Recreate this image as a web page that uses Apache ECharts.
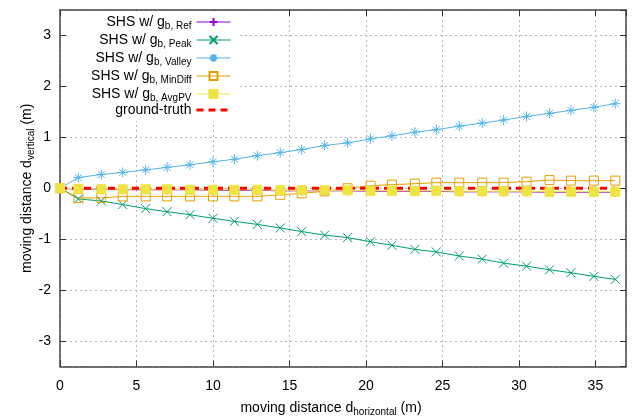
<!DOCTYPE html>
<html><head><meta charset="utf-8">
<script src="https://cdn.jsdelivr.net/npm/echarts@6/dist/echarts.min.js"></script>
<style>html,body{margin:0;padding:0;background:#fff}#c{width:633px;height:418px}</style>
</head><body><div id="c"></div>
<script>
const xs = [0, 1.2, 2.7, 4.1, 5.6, 7.0, 8.5, 10.0, 11.4, 12.9, 14.4, 15.8, 17.3, 18.8, 20.3, 21.7, 23.2, 24.6, 26.1, 27.6, 29.0, 30.5, 32.0, 33.4, 34.9, 36.3];
const refVals = [0, -0.02, -0.02, -0.03, -0.03, -0.03, -0.03, -0.04, -0.04, -0.04, -0.05, -0.05, -0.05, -0.05, -0.06, -0.06, -0.06, -0.06, -0.07, -0.07, -0.07, -0.07, -0.08, -0.08, -0.08, -0.08];
const peakVals = [0, -0.21, -0.25, -0.32, -0.40, -0.46, -0.52, -0.59, -0.65, -0.71, -0.78, -0.85, -0.92, -0.97, -1.05, -1.12, -1.20, -1.25, -1.33, -1.39, -1.47, -1.53, -1.60, -1.66, -1.73, -1.79];
const valleyVals = [0, 0.21, 0.27, 0.31, 0.36, 0.41, 0.46, 0.52, 0.57, 0.64, 0.70, 0.76, 0.84, 0.89, 0.97, 1.03, 1.10, 1.15, 1.22, 1.28, 1.34, 1.41, 1.47, 1.53, 1.59, 1.66];
const minDiffVals = [0, -0.19, -0.19, -0.16, -0.16, -0.16, -0.16, -0.16, -0.16, -0.16, -0.13, -0.10, -0.06, 0.0, 0.05, 0.07, 0.09, 0.11, 0.11, 0.11, 0.11, 0.13, 0.16, 0.15, 0.15, 0.15];
const avgPVVals = [0, -0.01, -0.02, -0.02, -0.02, -0.02, -0.03, -0.03, -0.03, -0.03, -0.04, -0.04, -0.04, -0.04, -0.05, -0.05, -0.05, -0.05, -0.06, -0.06, -0.06, -0.06, -0.07, -0.07, -0.07, -0.07];
const truthVals = [0, 0, 0, 0, 0, 0, 0, 0, 0, 0, 0, 0, 0, 0, 0, 0, 0, 0, 0, 0, 0, 0, 0, 0, 0, 0];
const seriesNames = ['Ref', 'Peak', 'Valley', 'MinDiff', 'AvgPV', 'ground-truth'];

const FONT = '"Liberation Sans", Arial, sans-serif';
const pair = v => v.map((y, i) => [xs[i], y]);
const chart = echarts.init(document.getElementById('c'), null, {renderer: 'canvas'});
const P_PLUS = 'path://M0,5L10,5M5,0L5,10';
const P_CROSS = 'path://M0,0L10,10M10,0L0,10';
const P_STAR = 'path://M0,5L10,5M5,0L5,10M1.5,1.5L8.5,8.5M8.5,1.5L1.5,8.5';
const P_SQ = 'path://M0,0L10,0L10,10L0,10Z';

function mk(name, data, color, symbol, size, extra) {
  return Object.assign({
    name: name, type: 'line', data: pair(data), symbol: symbol, symbolSize: size,
    showAllSymbol: true, animation: false,
    lineStyle: {color: color, width: 1},
    itemStyle: {color: color, borderColor: color, borderWidth: 1},
    emphasis: {disabled: true}
  }, extra || {});
}
const rich = {
  a: {fontFamily: FONT, fontSize: 14, color: '#000', lineHeight: 17},
  s: {fontFamily: FONT, fontSize: 10, color: '#000', lineHeight: 17, padding: [8, 0, 0, 0]}
};
const gridStyle = {show: true, lineStyle: {color: '#b8b8b8', width: 1, type: [2, 3]}};
const axisLine = {show: true, onZero: false, lineStyle: {color: '#444', width: 1.5}};
const axisTick = {show: true, inside: true, length: 6, lineStyle: {color: '#333'}};
const option = {
  backgroundColor: '#fff',
  animation: false,
  grid: {left: 60, right: 7, top: 10, bottom: 51.5, containLabel: false, outerBoundsMode: 'none'},
  legend: {
    orient: 'vertical', align: 'right', right: 395, top: 11,
    backgroundColor: '#fff', padding: [2, 6, 4, 22],
    itemWidth: 34, itemHeight: 10, itemGap: 0,
    lineStyle: {width: 1},
    textStyle: {rich: rich},
    formatter: function (n) {
      if (n === 'ground-truth') return '{a|ground-truth}';
      return '{a|SHS w/ g}{s|b, ' + n + '}';
    },
    data: seriesNames.map(n => n === 'ground-truth'
      ? {name: n, itemStyle: {opacity: 0}, lineStyle: {width: 3, type: [7, 5], color: '#ff0000'}}
      : {name: n})
  },
  xAxis: [{
    type: 'value', min: 0, max: 37, interval: 5, position: 'bottom',
    axisLine: axisLine, axisTick: axisTick,
    axisLabel: {fontFamily: FONT, fontSize: 14, color: '#000', margin: 13, showMaxLabel: false},
    splitLine: gridStyle,
    name: '{a|moving distance d}{s|horizontal}{a| (m)}', nameLocation: 'middle', nameGap: 33,
    nameMoveOverlap: false,
    nameTextStyle: {rich: rich, padding: [0, 24, 0, 0]}
  }, {
    type: 'value', min: 0, max: 37, interval: 5, position: 'top',
    axisLine: axisLine, axisTick: axisTick,
    axisLabel: {show: false}, splitLine: {show: false}
  }],
  yAxis: [{
    type: 'value', min: -3.5, max: 3.5, splitNumber: 7, position: 'left',
    axisLine: axisLine, axisTick: axisTick,
    axisLabel: {fontFamily: FONT, fontSize: 14, color: '#000', margin: 9, showMinLabel: false, showMaxLabel: false},
    splitLine: gridStyle,
    name: '{a|moving distance d}{s|vertical}{a| (m)}', nameLocation: 'middle', nameGap: 24, nameRotate: 90,
    nameMoveOverlap: false,
    nameTextStyle: {rich: rich}
  }, {
    type: 'value', min: -3.5, max: 3.5, splitNumber: 7, position: 'right',
    axisLine: axisLine, axisTick: axisTick,
    axisLabel: {show: false}, splitLine: {show: false}
  }],
  series: [
    mk('Ref', refVals, '#9400d3', P_PLUS, 9),
    mk('Peak', peakVals, '#009e73', P_CROSS, 9),
    mk('Valley', valleyVals, '#56b4e9', P_STAR, 10),
    mk('MinDiff', minDiffVals, '#e69f00', P_SQ, 9, {itemStyle: {color: 'rgba(255,255,255,0)', borderColor: '#e69f00', borderWidth: 1}}),
    mk('AvgPV', avgPVVals, '#f0e442', 'rect', 9),
    mk('ground-truth', truthVals, '#ff0000', 'none', 0, {lineStyle: {color: '#ff0000', width: 3, type: [7, 5]}, itemStyle: {color: '#ff0000'}})
  ]
};
chart.setOption(option);
</script></body></html>
